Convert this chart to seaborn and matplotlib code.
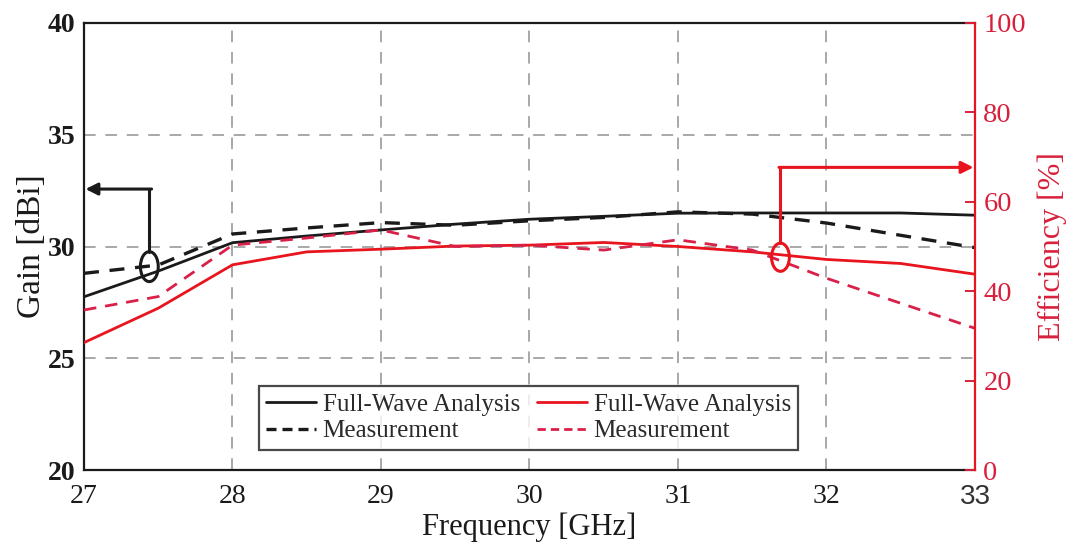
import matplotlib
matplotlib.use("Agg")
import matplotlib.pyplot as plt
from matplotlib.patches import Ellipse
from matplotlib.lines import Line2D
import seaborn as sns
import pandas as pd

# Frequency sweep [GHz]
freq = [27, 27.5, 28, 28.5, 29, 29.5, 30, 30.5, 31, 31.5, 32, 32.5, 33]
# Gain [dBi]
gain_fullwave = [27.75, 28.9, 30.17, 30.47, 30.74, 31.0, 31.22, 31.35, 31.49, 31.5, 31.5, 31.5, 31.4]
gain_measured = [28.8, 29.17, 30.56, 30.83, 31.07, 30.95, 31.15, 31.3, 31.55, 31.45, 31.05, 30.5, 29.95]
# Efficiency [%]
eff_fullwave = [28.5, 36.2, 45.9, 48.8, 49.4, 50.1, 50.3, 50.9, 50.0, 48.8, 47.1, 46.2, 43.8]
eff_measured = [35.8, 38.8, 50.3, 51.9, 53.7, 50.0, 50.3, 49.2, 51.5, 49.2, 42.9, 37.3, 31.7]

legend_labels = ["Full-Wave Analysis", "Measurement"]
x_ticks = [27, 28, 29, 30, 31, 32, 33]
gain_ticks = [20, 25, 30, 35, 40]
eff_ticks = [0, 20, 40, 60, 80, 100]

sns.set_theme(style="white")
plt.rcParams["font.family"] = ["Liberation Serif", "DejaVu Serif"]
plt.rcParams["mathtext.fontset"] = "stix"

BLACK = "#1a1a1a"
RED = "#e8141e"
RED_DASH = "#d92048"
RED_TEXT = "#d8203c"
GRID = "#a8a8a8"

df = pd.DataFrame({"freq": freq, "gain_fw": gain_fullwave, "gain_ms": gain_measured,
                   "eff_fw": eff_fullwave, "eff_ms": eff_measured})

fig = plt.figure(figsize=(10.75, 5.44), dpi=100)
ax1 = fig.add_axes([84 / 1075, 1 - 470 / 544, (975 - 84) / 1075, (470 - 23) / 544])
ax2 = ax1.twinx()

lw = 2.0
dash = (4.5, 3.2)

sns.lineplot(data=df, x="freq", y="gain_fw", ax=ax1, color=BLACK, linewidth=lw)
sns.lineplot(data=df, x="freq", y="gain_ms", ax=ax1, color=BLACK, linewidth=lw + 0.4)
ax1.lines[-1].set_dashes(dash)

sns.lineplot(data=df, x="freq", y="eff_fw", ax=ax2, color=RED, linewidth=lw)
sns.lineplot(data=df, x="freq", y="eff_ms", ax=ax2, color=RED_DASH, linewidth=lw)
ax2.lines[-1].set_dashes(dash)

# axes ranges and ticks
ax1.set_xlim(27, 33)
ax1.set_ylim(20, 40)
ax2.set_ylim(0, 100)
ax1.set_xticks(x_ticks)
ax1.set_yticks(gain_ticks)
ax2.set_yticks(eff_ticks)

ax1.grid(True, color=GRID, linestyle=(0, (6, 5)), linewidth=1.4)
ax2.grid(False)

ax1.tick_params(axis="y", direction="in", length=0, colors=BLACK, labelsize=20, pad=6)
ax1.tick_params(axis="x", direction="in", length=0, colors=BLACK, labelsize=20, pad=10)
for lab in ax1.get_yticklabels():
    lab.set_fontweight("bold")
ax1.get_xticklabels()[-1].set_family(["Liberation Sans", "DejaVu Sans"])
ax1.get_xticklabels()[-1].set_color("#333333")
ax2.tick_params(axis="y", direction="in", length=7, width=1.4, colors=RED_TEXT,
                labelsize=20.5, pad=6, right=True)

for side in ["left", "top", "bottom"]:
    ax1.spines[side].set_color(BLACK)
    ax1.spines[side].set_linewidth(1.6)
ax1.spines["right"].set_visible(False)
for side in ["left", "top", "bottom"]:
    ax2.spines[side].set_visible(False)
ax2.spines["right"].set_color(RED)
ax2.spines["right"].set_linewidth(1.6)

ax1.set_xlabel("Frequency [GHz]", fontsize=22, color=BLACK, labelpad=2)
ax1.set_ylabel("Gain [dBi]", fontsize=24, color=BLACK, labelpad=1)
ax2.set_ylabel("Efficiency [%]", fontsize=23, color=RED_TEXT, labelpad=8)

# ellipse markers with arrows pointing to their axes
ax1.add_patch(Ellipse((27.44, 29.1), 0.12, 1.34, fill=False, edgecolor=BLACK, linewidth=2.2, zorder=5))
ax1.plot([27.44, 27.44], [29.1 + 0.67, 32.57], color=BLACK, linewidth=2.2, zorder=5)
ax1.annotate("", xy=(27.01, 32.57), xytext=(27.455, 32.57),
             arrowprops=dict(arrowstyle="-|>,head_length=0.6,head_width=0.3",
                             color=BLACK, linewidth=2.2, shrinkA=0, shrinkB=0), zorder=5)

ax2.add_patch(Ellipse((31.69, 47.6), 0.12, 6.3, fill=False, edgecolor=RED, linewidth=2.2, zorder=5))
ax2.plot([31.69, 31.69], [47.6 + 3.15, 67.7], color=RED, linewidth=2.2, zorder=5)
ax2.annotate("", xy=(32.99, 67.7), xytext=(31.68, 67.7),
             arrowprops=dict(arrowstyle="-|>,head_length=0.6,head_width=0.3",
                             color=RED, linewidth=2.2, shrinkA=0, shrinkB=0), zorder=5)

handles = [
    Line2D([], [], color=BLACK, linewidth=lw),
    Line2D([], [], color=BLACK, linewidth=lw + 0.4, dashes=(3.0, 1.8)),
    Line2D([], [], color=RED, linewidth=lw),
    Line2D([], [], color=RED_DASH, linewidth=lw, dashes=(3.0, 1.8)),
]
labels = legend_labels + legend_labels
leg = ax2.legend(handles, labels, ncol=2, loc="lower center", bbox_to_anchor=(0.499, 0.045),
                 fontsize=18, frameon=True, fancybox=False, edgecolor=BLACK,
                 handlelength=2.0, handletextpad=0.25, columnspacing=0.7,
                 borderpad=0.3, labelspacing=0.15, borderaxespad=0)
leg.get_frame().set_linewidth(1.6)
for t in leg.get_texts():
    t.set_color("#2a2a2a")

fig.savefig("out.png", dpi=100)
